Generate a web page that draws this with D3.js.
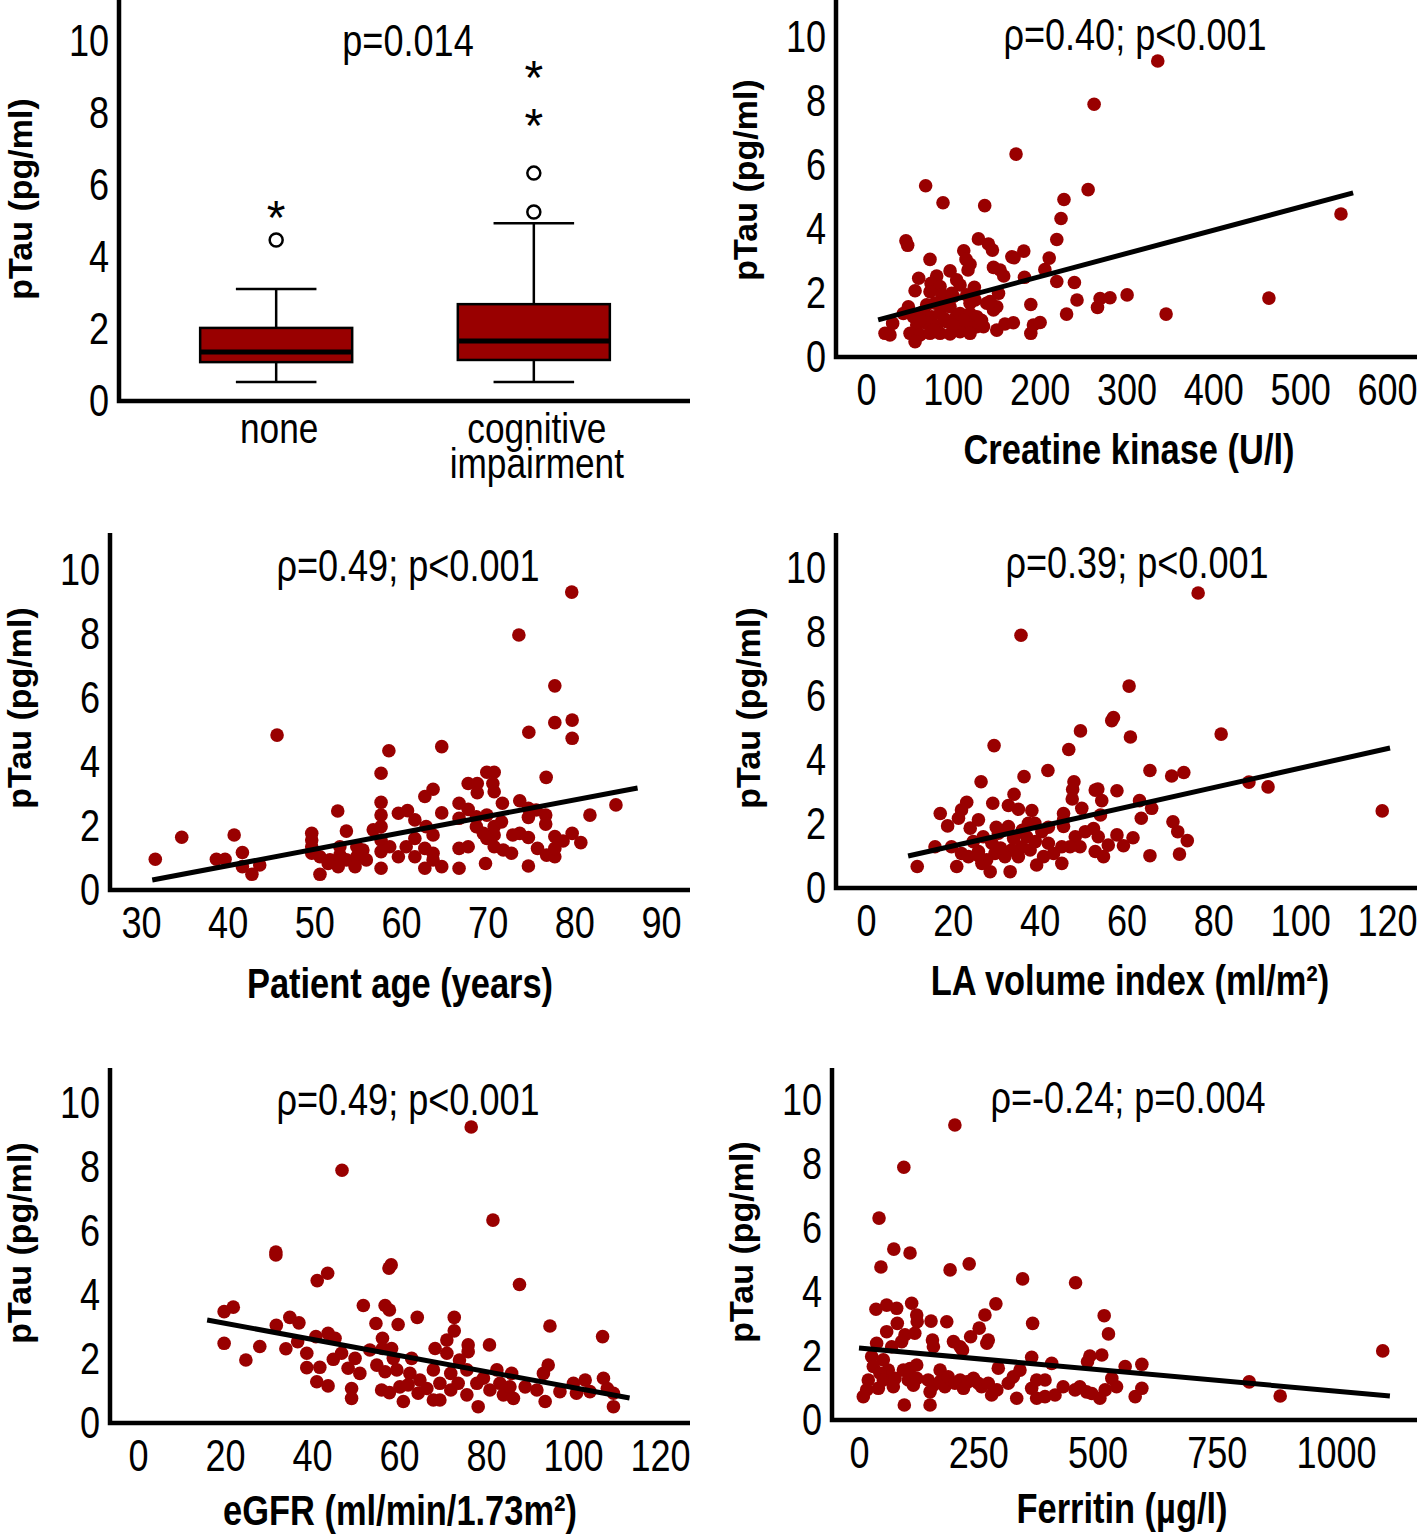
<!DOCTYPE html>
<html>
<head>
<meta charset="utf-8">
<script src="https://cdn.jsdelivr.net/npm/d3@7"></script>
<style>
  body { margin: 0; background: #fff; }
  svg { display: block; }
  .tick text, .lbl { font-family: "Liberation Sans", Arial, sans-serif; font-size: 44px; fill: #000; }
  .cat { font-family: "Liberation Sans", Arial, sans-serif; font-size: 43px; fill: #000; }
  .xtitle { font-family: "Liberation Sans", Arial, sans-serif; font-weight: bold; font-size: 42px; }
  .ytitle { font-family: "Liberation Sans", Arial, sans-serif; font-weight: bold; font-size: 34px; }
</style>
</head>
<body>
<div id="chart"></div>
<script>
// ---- data ----
const pTauTicks = [0, 2, 4, 6, 8, 10];

// box plot: pTau by cognitive impairment
const groups = ['none', 'cognitive impairment'];
const boxQ1 = [1.08, 1.14];
const boxMedian = [1.36, 1.67];
const boxQ3 = [2.03, 2.69];
const whiskerLow = [0.53, 0.53];
const whiskerHigh = [3.11, 4.94];
const outlierCircles = [[4.47], [5.25, 6.33]];
const outlierStars = [[5.3], [7.86, 9.19]];

// creatine kinase (U/l) vs pTau
const ckTicks = [0, 100, 200, 300, 400, 500, 600];
const ckPoints = [
  [68.7,5.35],[88.7,4.82],[136.7,4.73],[255.8,5.23],[228,4.92],[224.6,4.33],[219.7,3.67],[46,3.63],[48,3.49],
  [129.5,3.69],[141,3.53],[145.6,3.34],[112.6,3.32],[168,3.13],[170.5,3.1],[181.7,3.31],[211,3.09],[73.7,3.05],
  [115.2,3.05],[119.8,2.9],[117.5,2.72],[96.8,2.69],[146.8,2.8],[154.4,2.72],[158.6,2.53],[206,2.73],[182.5,2.49],
  [60.7,2.46],[81.4,2.53],[74.9,2.3],[85.3,2.2],[104.4,2.41],[108.3,2.25],[124.8,2.18],[219.7,2.36],[240,2.33],
  [56.5,2.07],[73.7,2.04],[87.3,1.94],[98.7,1.99],[116,1.94],[125.6,1.78],[152.6,1.99],[139,1.68],[150.6,1.57],
  [243,1.78],[269.6,1.83],[281,1.85],[266.6,1.55],[189.8,1.64],[231,1.34],[48.8,1.57],[43,1.36],[30.7,1.05],
  [54.5,1.26],[66,1.42],[75.7,1.26],[85.3,1.36],[96.8,1.57],[102.5,1.21],[108.3,1.36],[119.8,1.36],[127.5,1.26],
  [58.4,1.0],[69.9,1.05],[81.4,0.95],[93,1.1],[104.5,0.9],[116,1.05],[127.5,0.95],[135.3,0.95],[50.7,0.74],
  [62.2,0.69],[73.7,0.74],[85.3,0.74],[96.8,0.72],[108.3,0.79],[119.8,0.74],[27.6,0.69],[21.9,0.74],[56.5,0.48],
  [150.6,0.84],[160,1.03],[169.7,1.07],[189.8,0.74],[192.8,1.0],[200.5,1.08],[146.8,1.47],[142.9,1.73],[87.3,1.7],
  [79.5,1.68],[69.9,1.63],[119.8,1.68],[100.6,1.89],[62,1.15],[90,1.2],[112,1.15],[78,0.85],[100,1.0],[133,1.15],
  [336,9.25],[262.7,7.9],[172.8,6.34],[547,4.47],[464,1.84],[345.6,1.34],[300.7,1.94]
];
const ckFit = [[14, 1.16], [561, 5.13]];

// patient age (years) vs pTau
const ageTicks = [30, 40, 50, 60, 70, 80, 90];
const agePoints = [
  [45.7,4.84],[58.6,4.35],[64.7,4.48],[74.75,4.93],[77.75,5.23],[79.75,5.31],[79.75,4.74],[57.7,3.65],[69.9,3.68],
  [70.75,3.68],[67.75,3.33],[68.8,3.33],[68.8,3.04],[70.6,3.33],[70.75,3.07],[76.75,3.52],[63.7,3.15],[62.75,2.92],
  [57.7,2.74],[66.7,2.71],[67.75,2.52],[71.7,2.71],[73.7,2.79],[74.7,2.55],[75.6,2.5],[81.8,2.34],[84.8,2.66],
  [52.7,2.47],[59.7,2.4],[60.75,2.48],[64.7,2.41],[57.7,2.34],[61.6,2.19],[66.7,2.24],[68.7,2.29],[69.9,2.34],
  [74.7,2.27],[76.7,2.34],[76.7,2.06],[57.7,1.98],[56.8,1.88],[53.7,1.84],[49.7,1.77],[49.7,1.56],[62.9,1.98],
  [63.7,1.72],[68.7,1.98],[69.5,1.77],[70.75,1.98],[71.6,2.13],[70.75,1.72],[73.7,1.77],[74.7,1.64],[72.9,1.72],
  [77.75,1.67],[78.7,1.53],[79.75,1.77],[80.75,1.48],[69.9,1.61],[40.75,1.72],[34.7,1.65],[31.65,0.96],[38.7,0.96],
  [39.7,0.96],[41.7,1.17],[41.7,0.73],[42.8,0.49],[43.7,0.78],[49.7,1.15],[50.65,1.04],[51.8,0.94],[52.95,1.09],
  [53.7,0.94],[54.9,1.04],[55.6,1.25],[56,0.94],[52.75,0.73],[54.7,0.73],[50.65,0.49],[51.6,0.83],[57.7,1.56],
  [57.7,1.2],[57.7,0.68],[58.7,1.35],[59.7,1.04],[60.6,1.35],[61.6,1.04],[61.6,1.61],[62.75,1.3],[62.75,0.68],
  [63.7,1.15],[63.7,0.94],[64.7,0.73],[66.7,1.3],[66.7,0.68],[67.75,1.35],[69.75,0.83],[70.75,1.35],[71.8,1.25],
  [72.75,1.15],[74.7,0.75],[75.75,1.3],[76.8,1.09],[77.75,1.04],[77.75,1.3],[54.9,1.35],[52.95,1.35],[49.7,1.35],
  [79.7,9.31],[73.6,7.97],[77.75,6.38]
];
const ageFit = [[31.3, 0.31], [87.3, 3.19]];

// LA volume index (ml/m²) vs pTau
const laviTicks = [0, 20, 40, 60, 80, 100, 120];
const laviPoints = [
  [57,5.33],[56.6,5.23],[49.4,4.91],[60.9,4.72],[29.5,4.45],[46.7,4.33],[41.9,3.67],[36.4,3.48],[26.5,3.32],
  [65.4,3.67],[70.4,3.5],[73.2,3.61],[47.9,3.32],[47.6,3.08],[47.5,2.78],[52.8,3.06],[53.4,3.09],[57.8,3.04],
  [54.3,2.73],[34.1,2.93],[32.8,2.58],[35.1,2.46],[29.2,2.65],[23.2,2.68],[22,2.44],[21.3,2.18],[17.1,2.33],
  [18.8,1.94],[38.2,2.42],[45.5,2.33],[49.7,2.49],[54,2.28],[63,2.73],[65.8,2.49],[63.4,2.18],[70.7,2.07],
  [71.8,1.76],[74,1.48],[72.2,1.06],[65.4,1.01],[61.5,1.57],[59.3,1.32],[57.8,1.66],[55.8,1.34],[53.5,1.6],
  [52.4,1.86],[50.5,1.76],[48.2,1.6],[49.3,1.29],[47,1.29],[45.1,1.29],[45.5,2.13],[45.5,1.92],[40.5,1.76],
  [42,1.4],[40.9,0.98],[43.2,1.08],[45.1,0.77],[39.3,0.72],[37.4,2.02],[38.9,2.02],[37,1.6],[35.9,1.29],
  [37.8,1.19],[35.1,0.98],[33.6,1.19],[32,0.98],[33.2,0.51],[32.8,1.92],[30.5,1.71],[29,1.4],[29.7,1.08],
  [27.8,0.88],[28.6,0.51],[26.7,0.77],[25.9,1.14],[24.7,1.45],[24,1.87],[25.9,2.13],[19.7,1.29],[22,1.08],
  [20.9,0.67],[23.6,0.98],[15.9,1.29],[11.8,0.67],[52.8,1.14],[54.7,0.98],[30,1.9],[27,1.6],[34,1.55],
  [31,1.25],[36,1.8],[42,1.9],[39,1.45],[26,1.0],
  [76.5,9.22],[35.7,7.9],[60.6,6.31],[81.8,4.81],[88.2,3.31],[92.6,3.16],[118.9,2.41]
];
const laviFit = [[9.7, 1.0], [120.7, 4.375]];

// eGFR (ml/min/1.73m²) vs pTau
const egfrTicks = [0, 20, 40, 60, 80, 100, 120];
const egfrPoints = [
  [41.2,4.45],[43.6,4.68],[57.7,4.84],[58.2,4.94],[87.7,4.33],[19.8,3.48],[21.9,3.62],[51.8,3.67],[56.8,3.67],
  [57.8,3.53],[64.2,3.3],[72.7,3.3],[72.7,2.88],[94.7,3.03],[106.8,2.7],[31.8,3.05],[34.9,3.3],[37,3.13],
  [54.7,3.11],[59.8,3.08],[19.8,2.49],[28,2.39],[34,2.32],[24.8,1.97],[36.7,2.54],[40.9,2.7],[43.7,2.8],
  [45.3,2.65],[38.8,2.18],[38.8,1.73],[41.8,1.74],[41.1,1.29],[43.7,1.16],[44.9,1.99],[46.8,2.18],[48.3,1.71],
  [49.9,2.02],[51,1.55],[49.1,1.08],[49.1,0.77],[53.3,2.28],[54.9,1.81],[56.2,2.65],[56.2,2.33],[58.3,2.33],
  [58.7,2.02],[56,1.03],[57.8,0.95],[56.8,1.6],[59.5,1.66],[60.2,1.13],[61,0.67],[62.5,1.55],[62.1,1.19],
  [62.9,2.02],[64.8,1.34],[66.4,1.08],[67.9,1.66],[68.3,2.33],[67.9,0.72],[69.4,1.24],[71,2.59],[71,2.18],
  [71.9,1.55],[71.9,1.03],[69.4,0.72],[73.9,1.97],[75.9,2.44],[75.9,2.23],[75.6,1.66],[73.6,1.24],[75.6,0.88],
  [77.9,1.24],[78.2,0.51],[79.4,1.4],[80.8,2.44],[80.9,1.03],[82.5,1.66],[83.2,1.24],[84,0.88],[85.9,1.55],
  [85.5,1.13],[86.3,0.77],[89,1.13],[91.7,1.03],[93.2,1.55],[94.3,1.81],[93.6,0.67],[97,0.98],[100.1,1.24],
  [100.8,0.93],[102.8,1.34],[103.9,0.98],[107,1.4],[107.9,1.08],[109.3,0.93],[109.3,0.51],[64.4,0.93],
  [76.6,9.25],[46.9,7.9],[81.6,6.34],[31.7,5.34],[31.7,5.25]
];
const egfrFit = [[15.9, 3.22], [113, 0.78]];

// ferritin (µg/l) vs pTau
const ferritinTicks = [0, 250, 500, 750, 1000];
const ferritinPoints = [
  [343,4.41],[454,4.29],[35.6,3.46],[58,3.59],[79,3.49],[110.4,3.65],[287,3.63],[264,3.28],[121,3.28],
  [122,3.07],[80.3,3.02],[151,3.09],[184,3.07],[364,3.02],[514,3.26],[523,2.69],[252,2.87],[234,2.6],
  [58,2.76],[96.4,2.66],[117,2.71],[89.5,2.45],[154,2.5],[156,2.29],[198,2.45],[212,2.29],[217,2.19],
  [271,2.5],[268,2.4],[37,2.4],[68.5,2.29],[362,1.96],[404,1.77],[484,2.0],[509,2.03],[479,1.82],
  [558,1.67],[593,1.74],[26.6,1.98],[30,1.67],[19.5,1.25],[16,0.94],[9,0.73],[51,1.88],[61.4,1.56],
  [44,1.46],[40.5,0.99],[51,1.25],[75.5,1.3],[72,1.04],[93,1.56],[107,1.61],[121,1.72],[103.4,1.25],
  [121,1.3],[114,1.09],[95,0.47],[149,0.47],[145,1.25],[156,1.09],[149,0.88],[170,1.56],[170,1.2],
  [180,1.04],[187,1.35],[201,1.15],[212,1.25],[219,0.99],[229,1.2],[240,1.3],[250,1.15],[257,1.04],
  [271,1.15],[278,0.78],[289,0.94],[292,1.62],[313,1.15],[323.5,1.35],[337.5,1.56],[330.6,0.68],[362,0.99],
  [372.5,1.25],[390,1.25],[372.5,0.68],[390,0.73],[411,0.78],[428,1.04],[453,0.94],[463,1.04],[477,0.88],
  [488,0.83],[505,0.68],[516,0.94],[530,1.3],[540,1.04],[579,0.73],[593,0.99],
  [201,9.22],[94,7.9],[42,6.31],[73,5.34],[107,5.22],[46,4.78],[191,4.69],[231,4.88],
  [818,1.19],[883,0.75],[1098,2.16]
];
const ferritinFit = [[0, 2.25], [1113, 0.75]];

// ---- drawing ----
const red = '#990000';
const narrow = 0.82; // the figure uses a condensed face; squeeze Liberation Sans to match
const svg = d3.select('#chart').append('svg').attr('width', 1417).attr('height', 1535);
svg.append('rect').attr('width', 1417).attr('height', 1535).attr('fill', '#fff');

// condensed text placed at (x, y)
function ntext(g, x, y, str, cls) {
  return g.append('text').attr('class', cls)
    .attr('transform', `translate(${x}, ${y}) scale(${narrow}, 1)`)
    .attr('text-anchor', 'middle')
    .text(str);
}

function frame(p, y) {
  const g = svg.append('g');
  // y tick labels
  g.append('g')
    .attr('transform', `translate(${p.axisX}, 0)`)
    .call(d3.axisLeft(y).tickValues(pTauTicks).tickSize(0).tickPadding(12))
    .call((a) => a.select('.domain').remove())
    .call((a) => a.selectAll('text').attr('transform', `scale(${narrow}, 1)`));
  // axis lines
  g.append('path')
    .attr('d', `M${p.axisX},${p.top}V${p.bottom}H${p.right}`)
    .attr('fill', 'none')
    .attr('stroke', '#000')
    .attr('stroke-width', 4.5);
  // text annotation
  ntext(g, p.noteX, p.noteY, p.note, 'lbl');
  // y title
  g.append('text').attr('class', 'ytitle')
    .attr('transform', `translate(${p.yTitleX}, ${p.yTitleY}) rotate(-90)`)
    .attr('text-anchor', 'middle')
    .text('pTau (pg/ml)');
  return g;
}

function scatter(p, points, fit, ticks) {
  const y = d3.scaleLinear().domain([0, 10]).range([p.bottom, p.y10]);
  const x = d3.scaleLinear().domain([ticks[0], ticks[ticks.length - 1]]).range([p.x0, p.x1]);
  const g = frame(p, y);

  g.append('g')
    .attr('transform', `translate(0, ${p.bottom})`)
    .call(d3.axisBottom(x).tickValues(ticks).tickFormat(d3.format('d')).tickSize(0).tickPadding(17))
    .call((a) => a.select('.domain').remove())
    .call((a) => a.selectAll('text').attr('transform', `scale(${narrow}, 1)`));

  ntext(g, p.xTitleX, p.xTitleY, p.xTitle, 'xtitle');

  g.append('g')
    .selectAll('circle')
    .data(points)
    .join('circle')
    .attr('cx', (d) => x(d[0]))
    .attr('cy', (d) => y(d[1]))
    .attr('r', 6.8)
    .attr('fill', red);

  g.append('path')
    .datum(fit)
    .attr('d', d3.line().x((d) => x(d[0])).y((d) => y(d[1])))
    .attr('stroke', '#000')
    .attr('stroke-width', 5)
    .attr('fill', 'none');
}

function boxplot(p) {
  const y = d3.scaleLinear().domain([0, 10]).range([p.bottom, p.y10]);
  const x = d3.scaleBand().domain(groups).range([p.axisX, p.right + 1]).paddingInner(0.41).paddingOuter(0.315);
  const g = frame(p, y);
  const bw = x.bandwidth();

  groups.forEach((name, i) => {
    const cx = x(name) + bw / 2;
    const b = g.append('g');
    const line = (x1, y1, x2, y2) => b.append('line')
      .attr('x1', x1).attr('y1', y1).attr('x2', x2).attr('y2', y2)
      .attr('stroke', '#000').attr('stroke-width', 2.5);
    // whiskers
    line(cx, y(whiskerLow[i]), cx, y(boxQ1[i]));
    line(cx, y(boxQ3[i]), cx, y(whiskerHigh[i]));
    line(cx - bw * 0.265, y(whiskerLow[i]), cx + bw * 0.265, y(whiskerLow[i]));
    line(cx - bw * 0.265, y(whiskerHigh[i]), cx + bw * 0.265, y(whiskerHigh[i]));
    // box
    b.append('rect')
      .attr('x', x(name)).attr('width', bw)
      .attr('y', y(boxQ3[i])).attr('height', y(boxQ1[i]) - y(boxQ3[i]))
      .attr('fill', red).attr('stroke', '#000').attr('stroke-width', 2.5);
    b.append('line')
      .attr('x1', x(name)).attr('x2', x(name) + bw)
      .attr('y1', y(boxMedian[i])).attr('y2', y(boxMedian[i]))
      .attr('stroke', '#000').attr('stroke-width', 5);
    // outliers
    b.selectAll('circle').data(outlierCircles[i]).join('circle')
      .attr('cx', cx).attr('cy', (d) => y(d)).attr('r', 6.5)
      .attr('fill', '#fff').attr('stroke', '#000').attr('stroke-width', 2.5);
    b.selectAll('text.star').data(outlierStars[i]).join('text')
      .attr('class', 'lbl star')
      .attr('x', cx).attr('y', (d) => y(d)).attr('dy', '0.5em')
      .attr('text-anchor', 'middle')
      .style('font-size', '48px')
      .text('*');
  });

  // category labels, wrapped onto lines of one text element
  groups.forEach((name) => {
    const cx = x(name) + bw / 2;
    const t = ntext(g, cx + 3, p.bottom + 42, '', 'cat');
    name.split(' ').forEach((w, j) => {
      t.append('tspan').attr('x', 0).attr('dy', j === 0 ? 0 : 35).text(w);
    });
  });
}

boxplot({ axisX: 119, top: 0, bottom: 401, right: 690, y10: 41,
  note: 'p=0.014', noteX: 408, noteY: 56, yTitleX: 32, yTitleY: 199 });

scatter({ axisX: 836, top: 0, bottom: 357, right: 1417, y10: 37, x0: 866, x1: 1387,
  note: 'ρ=0.40; p<0.001', noteX: 1135, noteY: 50, yTitleX: 757, yTitleY: 180,
  xTitle: 'Creatine kinase (U/l)', xTitleX: 1129, xTitleY: 464 }, ckPoints, ckFit, ckTicks);

scatter({ axisX: 110, top: 533, bottom: 890, right: 690, y10: 570, x0: 141, x1: 661,
  note: 'ρ=0.49; p<0.001', noteX: 408, noteY: 581, yTitleX: 31, yTitleY: 708,
  xTitle: 'Patient age (years)', xTitleX: 400, xTitleY: 998 }, agePoints, ageFit, ageTicks);

scatter({ axisX: 836, top: 533, bottom: 888, right: 1417, y10: 568, x0: 866, x1: 1387,
  note: 'ρ=0.39; p<0.001', noteX: 1137, noteY: 578, yTitleX: 760, yTitleY: 708,
  xTitle: 'LA volume index (ml/m²)', xTitleX: 1130, xTitleY: 995 }, laviPoints, laviFit, laviTicks);

scatter({ axisX: 110, top: 1068, bottom: 1423, right: 690, y10: 1103, x0: 138, x1: 660,
  note: 'ρ=0.49; p<0.001', noteX: 408, noteY: 1115, yTitleX: 31, yTitleY: 1243,
  xTitle: 'eGFR (ml/min/1.73m²)', xTitleX: 400, xTitleY: 1525 }, egfrPoints, egfrFit, egfrTicks);

scatter({ axisX: 832, top: 1068, bottom: 1420, right: 1417, y10: 1100, x0: 859, x1: 1336,
  note: 'ρ=-0.24; p=0.004', noteX: 1128, noteY: 1113, yTitleX: 753, yTitleY: 1242,
  xTitle: 'Ferritin (µg/l)', xTitleX: 1122, xTitleY: 1523 }, ferritinPoints, ferritinFit, ferritinTicks);
</script>
</body>
</html>
